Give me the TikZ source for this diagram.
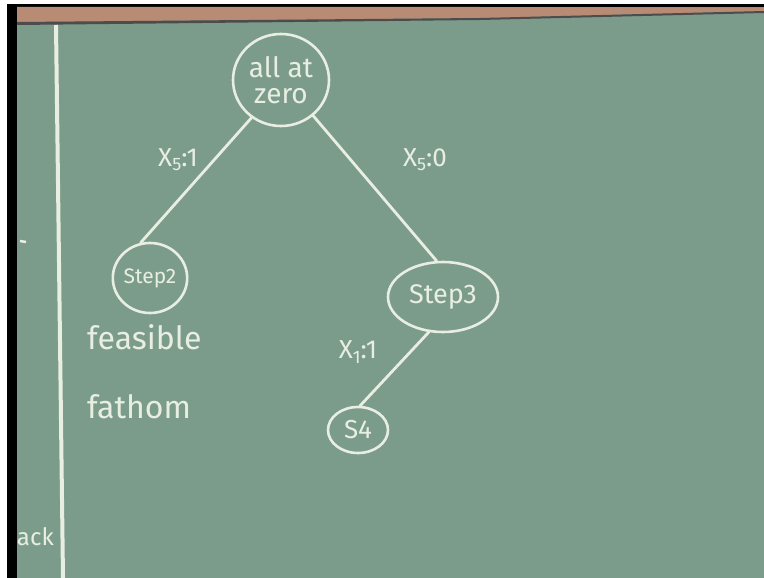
\documentclass[tikz,border=0pt]{standalone}
\usepackage{fontspec}
\setmainfont{Fira Sans}
\usetikzlibrary{shapes.geometric}

\definecolor{board}{RGB}{124,156,139}
\definecolor{chalk}{RGB}{232,238,226}
\definecolor{wood}{RGB}{184,140,116}

\newcommand{\chalksub}[1]{\raisebox{-0.3ex}{\fontsize{18}{18}\selectfont #1}}

\begin{document}
\begin{tikzpicture}[x=1pt, y=-1pt,
      state/.style={ellipse, draw=chalk, line width=2.6pt, text=chalk,
                    inner sep=0pt, align=center},
      chalkline/.style={draw=chalk, line width=2.8pt, line cap=round},
      lbl/.style={text=chalk, inner sep=0pt, font=\fontsize{26}{26}\selectfont},
      hand/.style={text=chalk, inner sep=0pt, anchor=west,
                   font=\fontsize{32}{32}\selectfont}]

    % frame of the photo: white margin, black edge, wooden rail
    \useasboundingbox (0,0) rectangle (764,578);
    \fill[white] (0,0) rectangle (764,578);
    \fill[board] (17,7) rectangle (764,578);
    \fill[black] (7,4) rectangle (764,7);
    \fill[wood] (17,7) -- (480,7) -- (764,8) -- (764,11) -- (480,18) -- (17,22) -- cycle;
    \fill[black!70] (17,22) -- (480,18) -- (764,11) -- (764,13) -- (480,20) -- (17,25) -- cycle;

    % vertical chalk line on the left
    \draw[chalk, line width=4pt] (56,25) -- (63,578);

    % nodes of the tree
    \node[state, minimum width=96pt, minimum height=92pt,
          font=\fontsize{28}{26}\selectfont] (zero) at (281,80) {all at\\zero};
    \node[state, minimum width=70pt, minimum height=70pt,
          font=\fontsize{21}{21}\selectfont] (step2) at (150,278) {Step2};
    \node[state, minimum width=110pt, minimum height=70pt,
          font=\fontsize{27}{27}\selectfont] (step3) at (443,297) {Step3};
    \node[state, minimum width=60pt, minimum height=46pt,
          font=\fontsize{26}{26}\selectfont] (s4) at (358,430) {S4};

    % branches
    \draw[chalkline] (zero.-128) -- (step2.105);
    \draw[chalkline] (zero.-48) -- (step3.100);
    \draw[chalkline] (step3.-112) -- (s4.85);

    % branch labels
    \node[lbl] (b51) at (178,160) {X\chalksub{5}:1};
    \node[lbl] (b50) at (425,160) {X\chalksub{5}:0};
    \node[lbl] (b11) at (358,352) {X\chalksub{1}:1};

    % notes under Step2
    \node[hand] (feas) at (87,337) {feasible};
    \node[hand] (fath) at (87,407) {fathom};

    % cut-off writing at the left edge
    \node[lbl, anchor=east, font=\fontsize{24}{24}\selectfont] (cut) at (54,537) {ack};
    \draw[chalk, line width=2.5pt] (20,241) -- (26,242);
    \fill[white] (0,0) rectangle (7,578);
    \fill[black] (7,4) rectangle (17,578);

\end{tikzpicture}
\end{document}
